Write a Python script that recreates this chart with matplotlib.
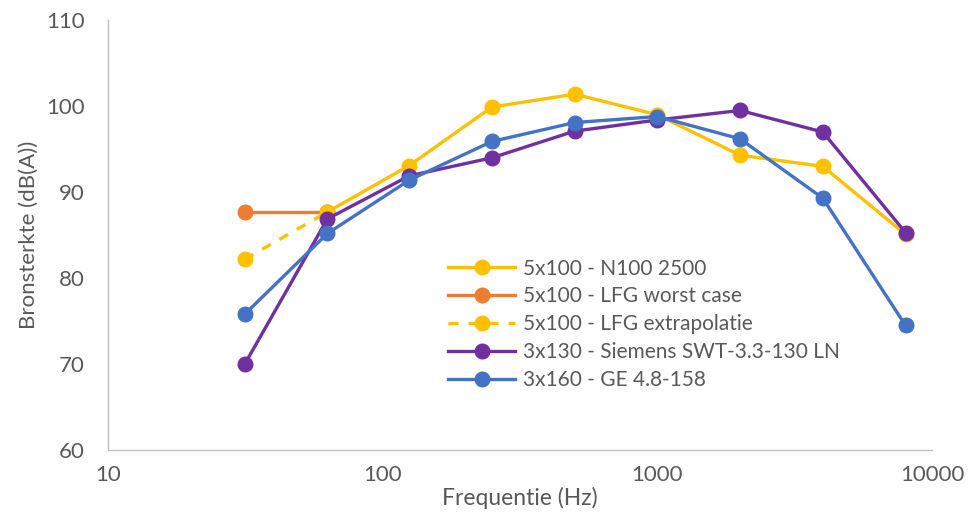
import numpy as np
import matplotlib.pyplot as plt
from matplotlib.ticker import FixedLocator, FuncFormatter, NullLocator

# octaafbanden (Hz)
freq = [31.5, 63, 125, 250, 500, 1000, 2000, 4000, 8000]

# bronsterkte per octaafband in dB(A)
n100_2500 = [None, 87.7, 93.1, 99.9, 101.4, 99.0, 94.3, 93.0, 85.1]
lfg_worst = [87.7, 87.7]
lfg_extra = [82.2, 87.7]
siemens_130 = [70.0, 86.9, 91.9, 94.0, 97.1, 98.4, 99.5, 97.0, 85.3]
ge_158 = [75.8, 85.2, 91.4, 95.9, 98.1, 98.8, 96.2, 89.3, 74.5]

labels = ['5x100 - N100 2500', '5x100 - LFG worst case', '5x100 - LFG extrapolatie',
          '3x130 - Siemens SWT-3.3-130 LN', '3x160 - GE 4.8-158']

GEEL = '#FFC000'
ORANJE = '#ED7D31'
PAARS = '#7030A0'
BLAUW = '#4472C4'
TEKST = '#595959'

plt.rcParams['font.family'] = ['Lato', 'DejaVu Sans']

fig = plt.figure(figsize=(9.71, 5.18), dpi=100)
ax = fig.add_axes([0.111, 0.131, 0.849, 0.830])

lw = 2.4
ms = 10.5
f_n100 = [f for f, v in zip(freq, n100_2500) if v is not None]
v_n100 = [v for v in n100_2500 if v is not None]
ax.plot(f_n100, v_n100, color=GEEL, lw=lw, marker='o', ms=ms, label=labels[0])
ax.plot(freq[:2], lfg_worst, color=ORANJE, lw=lw, marker='o', ms=ms, label=labels[1])
ax.plot(freq[:2], lfg_extra, color=GEEL, lw=lw, ls=(0, (3, 3)), marker='o', ms=ms, label=labels[2])
ax.plot(freq, siemens_130, color=PAARS, lw=lw, marker='o', ms=ms, label=labels[3])
ax.plot(freq, ge_158, color=BLAUW, lw=lw, marker='o', ms=ms, label=labels[4])

ax.set_xscale('log')
ax.set_xlim(10, 10000)
ax.set_ylim(60, 110)
ax.xaxis.set_major_locator(FixedLocator([10, 100, 1000, 10000]))
ax.xaxis.set_minor_locator(NullLocator())
ax.xaxis.set_major_formatter(FuncFormatter(lambda v, p: f'{v:.0f}'))
ax.set_yticks(np.arange(60, 111, 10))

for side in ['top', 'right']:
    ax.spines[side].set_visible(False)
for side in ['left', 'bottom']:
    ax.spines[side].set_color('#BFBFBF')
    ax.spines[side].set_linewidth(1)

ax.tick_params(axis='both', length=0, labelsize=16, labelcolor=TEKST)
ax.tick_params(axis='x', pad=11)
ax.tick_params(axis='y', pad=16.5)

ax.set_xlabel('Frequentie (Hz)', fontsize=16.5, color=TEKST, labelpad=1)
ax.set_ylabel('Bronsterkte (dB(A))', fontsize=16, color=TEKST, labelpad=5)

ax.legend(loc='upper left', bbox_to_anchor=(0.403, 0.465), frameon=False,
          fontsize=15, labelcolor=TEKST, handlelength=3.2, handletextpad=0.4,
          labelspacing=0.38, borderaxespad=0)

fig.savefig('out.png', dpi=100)
